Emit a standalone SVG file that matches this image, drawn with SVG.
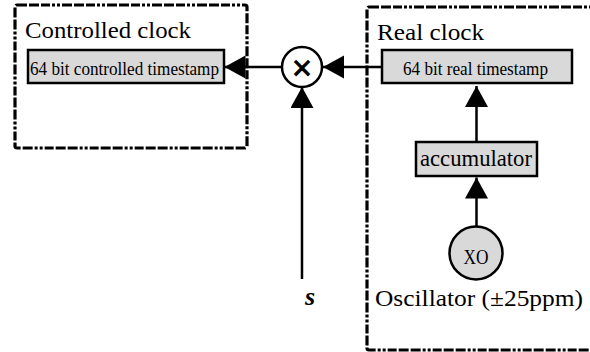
<svg xmlns="http://www.w3.org/2000/svg" width="590" height="352" viewBox="0 0 590 352">
  <style>
    .frame { fill: none; stroke: #000; stroke-width: 3.2; stroke-dasharray: 10 2 10 2 9 2 3 2 3 2; stroke-linejoin: round; }
    .block { fill: #d9d9d9; stroke: #000; stroke-width: 2.5; }
    .wire { fill: none; stroke: #000; stroke-width: 2.5; }
    .title { font-family: "Liberation Serif", "Times New Roman", serif; font-size: 24px; fill: #000; }
    .label { font-family: "Liberation Serif", "Times New Roman", serif; font-size: 19px; fill: #000; }
  </style>
  <defs>
    <marker id="head" markerUnits="userSpaceOnUse" markerWidth="24" markerHeight="24" refX="21" refY="11.5" orient="auto">
      <path d="M0,0 L21,11.5 L0,23 Z" fill="#000"/>
    </marker>
  </defs>

  <rect width="590" height="352" fill="#fff"/>

  <!-- Controlled clock group -->
  <g id="controlled-clock">
    <rect class="frame" x="15" y="5" width="232" height="143" rx="2"/>
    <text class="title" x="25" y="38" textLength="166" lengthAdjust="spacingAndGlyphs">Controlled clock</text>
  </g>
  <g id="controlled-timestamp">
    <rect class="block" x="28" y="50" width="196" height="33"/>
    <text class="label" x="30" y="75" textLength="189" lengthAdjust="spacingAndGlyphs">64 bit controlled timestamp</text>
  </g>

  <!-- Real clock group (right side runs past the edge) -->
  <g id="real-clock">
    <rect class="frame" x="367" y="7" width="240" height="343" rx="2"/>
    <text class="title" x="377" y="40" textLength="107" lengthAdjust="spacingAndGlyphs">Real clock</text>
    <text class="title" x="375" y="306" textLength="208" lengthAdjust="spacingAndGlyphs">Oscillator (±25ppm)</text>
  </g>
  <g id="real-timestamp">
    <rect class="block" x="382" y="50" width="190" height="33"/>
    <text class="label" x="403" y="75" textLength="145" lengthAdjust="spacingAndGlyphs">64 bit real timestamp</text>
  </g>
  <g id="accumulator">
    <rect class="block" x="416" y="142" width="121" height="34"/>
    <text class="title" x="420" y="166" textLength="112" lengthAdjust="spacingAndGlyphs">accumulator</text>
  </g>
  <g id="oscillator">
    <circle class="block" cx="476" cy="253" r="26.5"/>
    <text x="476" y="264" text-anchor="middle" font-family="Liberation Serif, serif" font-size="20" textLength="25" lengthAdjust="spacingAndGlyphs">XO</text>
  </g>

  <!-- Multiplier -->
  <g id="multiplier">
    <circle cx="302" cy="67" r="20" fill="#fff" stroke="#000" stroke-width="2.5"/>
    <text x="302" y="77" text-anchor="middle" font-family="DejaVu Sans, sans-serif" font-weight="bold" font-size="28">×</text>
  </g>

  <!-- Scale input -->
  <g id="scale-input">
    <text x="310" y="305" text-anchor="middle" font-family="Liberation Serif, serif" font-style="italic" font-weight="bold" font-size="26">s</text>
  </g>

  <!-- Connectors -->
  <g id="connectors">
    <line class="wire" x1="382" y1="67" x2="323" y2="67" marker-end="url(#head)"/>
    <line class="wire" x1="282" y1="67" x2="224.5" y2="67" marker-end="url(#head)"/>
    <line class="wire" x1="302" y1="279" x2="302" y2="87" marker-end="url(#head)"/>
    <line class="wire" x1="476.5" y1="142" x2="476.5" y2="86" marker-end="url(#head)"/>
    <line class="wire" x1="476.5" y1="226.5" x2="476.5" y2="177.5" marker-end="url(#head)"/>
  </g>
</svg>
